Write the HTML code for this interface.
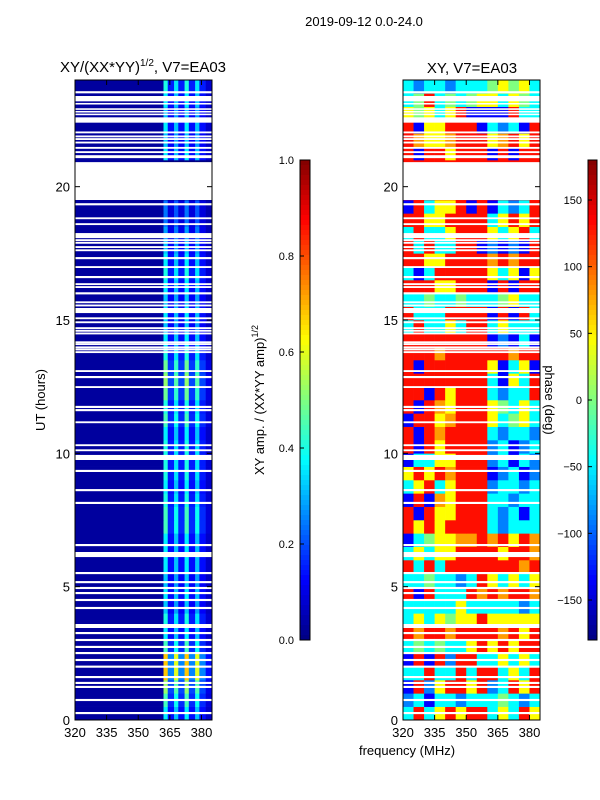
<!DOCTYPE html>
<html><head><meta charset="utf-8"><style>
body{margin:0;background:#fff;}
svg{display:block;font-family:"Liberation Sans","DejaVu Sans",sans-serif;}
</style></head><body>
<svg id="fig" width="600" height="800" viewBox="0 0 600 800" xmlns="http://www.w3.org/2000/svg">
<rect width="600" height="800" fill="#fff"/>
<text x="364" y="26" font-size="13" text-anchor="middle">2019-09-12 0.0-24.0</text>
<text x="143" y="72" font-size="15" text-anchor="middle">XY/(XX*YY)<tspan dy="-6" font-size="10">1/2</tspan><tspan dy="6">, V7=EA03</tspan></text>
<text x="472" y="73" font-size="15" text-anchor="middle">XY, V7=EA03</text>
<text transform="translate(45,400) rotate(-90)" font-size="13" text-anchor="middle">UT (hours)</text>
<text x="407" y="755" font-size="13" text-anchor="middle">frequency (MHz)</text>
<text transform="translate(264,400) rotate(-90)" font-size="13" text-anchor="middle">XY amp. / (XX*YY amp)<tspan dy="-6" font-size="9">1/2</tspan></text>
<g id="ampPanel"></g>
<g id="phasePanel"></g>
<g id="cbars"></g>
<text transform="translate(545,400) rotate(90)" font-size="13" text-anchor="middle">phase (deg)</text>
<g id="axes"></g>
</svg>
<script>
// ---- data ----
const hourRange = [0, 24];
const freqRange = [320, 385];
const xTicks = [320, 335, 350, 365, 380];
const yTicks = [0, 5, 10, 15, 20];
const ampTicks = [0.0, 0.2, 0.4, 0.6, 0.8, 1.0];
const phaseTicks = [-150, -100, -50, 0, 50, 100, 150];
const ampFreqEdges = [320, 362, 364, 367, 369, 372, 374, 377, 379, 382, 385];
const ampProfile = [0.03, 0.4, 0.15, 0.35, 0.15, 0.4, 0.15, 0.35, 0.15, 0.08];
const ampRowScale = [0.9,1.1,1.3,1.7,1.7,1.1,0.9,1.0,0.8,0.9,0.8,0.9,0.9,0.9,1.1,1.1,1.0,0.9,1.0,1.0,1.0,0.9,1.1,1.0,1.2,1.3,1.2,1.0,0.9,0.8,0.9,0.8,0.9,1.0,0.9,0.8,0.7,0.6,0.6,0,0,0,0.9,0.8,0.9,0.8,0.9,1.0];
const phaseFreqStart = [320,325,330,335,340,345,350,355,360,365,370,375,380];
const phaseRows = [
[-45,130,-45,45,130,45,130,130,-45,45,-45,130,45],
[-90,-45,-135,-45,-45,-90,-45,-45,-45,0,-45,-90,-45],
[-135,130,-90,45,130,130,45,130,-90,-45,130,45,130],
[-45,-45,130,-45,-45,130,-45,130,130,-45,45,-45,130],
[-135,130,-135,130,-90,130,130,-45,-45,45,-45,45,-45],
[-45,0,-45,0,-45,-45,45,130,45,130,45,130,130],
[130,80,130,130,80,130,130,130,130,80,130,45,130],
[-45,45,-45,45,0,45,45,130,45,45,45,45,45],
[-45,-45,-45,-45,-45,45,-45,-45,-45,-45,-45,-90,-45],
[130,-135,130,-45,-45,-45,130,80,130,80,130,130,80],
[-45,-45,0,-45,-45,-90,-45,130,45,-45,45,-45,45],
[130,-45,130,-45,130,130,130,130,130,130,130,80,130],
[-45,45,-45,45,45,130,130,130,130,45,130,130,80],
[-135,-45,0,45,45,80,80,130,80,130,45,130,80],
[130,45,130,45,130,130,130,130,-45,-90,-45,-45,-45],
[130,-135,130,45,45,130,130,130,-45,-90,-45,-135,-45],
[-135,130,-135,80,45,130,130,130,-45,-45,-90,-45,-45],
[-45,45,130,-45,45,130,130,130,-90,-45,-45,-90,-45],
[45,130,45,130,80,130,130,130,-135,-90,-45,-135,-90],
[-135,-45,-45,45,45,130,130,130,-90,-45,-135,-45,-90],
[130,-135,130,45,130,130,130,130,-90,-45,-135,-90,-45],
[130,-135,130,80,130,130,130,130,-45,-90,-45,-45,-90],
[-135,130,130,45,80,130,130,130,45,-45,0,45,-45],
[130,-135,130,80,45,130,130,130,45,0,-45,45,-45],
[130,130,-135,130,45,130,130,130,-45,-90,-45,-45,130],
[130,130,130,130,130,130,130,130,-45,-135,45,-45,130],
[130,-135,130,130,130,130,130,130,45,-135,-45,45,-135],
[130,130,130,80,130,130,130,130,130,130,80,130,130],
[130,130,130,130,130,130,130,130,-135,-90,-135,-45,-135],
[-45,130,-45,-45,45,-45,130,130,-45,45,-45,-45,-45],
[130,-45,-45,-45,130,130,130,130,-135,130,-135,130,-45],
[-45,-45,0,-45,-45,0,-45,-45,-45,0,45,-45,-45],
[130,130,130,45,45,130,130,130,-135,130,-135,130,130],
[-45,-135,-45,130,130,130,130,130,45,-45,45,-135,45],
[130,130,45,45,130,130,130,130,80,130,80,130,130],
[130,-45,130,-45,-45,130,130,-135,-90,-135,-90,-135,130],
[-45,130,-45,-45,45,130,130,130,45,-45,45,130,-45],
[130,130,45,45,130,130,130,130,-45,45,130,45,130],
[-135,130,-45,45,45,130,-135,130,-135,-45,-90,-45,130],
[130,130,130,130,130,130,130,130,130,130,130,130,130],
[130,130,130,130,130,130,130,130,130,130,130,130,130],
[130,130,130,130,130,130,130,130,130,130,130,130,130],
[130,-135,130,130,45,130,130,130,-135,130,-135,130,130],
[130,80,45,45,80,130,130,130,45,80,130,45,130],
[130,-135,45,45,130,130,130,-135,-45,-90,-45,-135,130],
[45,0,45,-45,45,130,-135,-135,-135,-135,130,-45,-45],
[-45,0,130,-45,0,-45,0,45,45,-45,45,0,-45],
[-45,-90,-45,-45,-90,-45,-45,-45,0,45,0,45,-45]
];
const gapStart = [23.5,23.2,23.08,22.88,22.78,22.68,22.4,22.0,21.85,21.75,21.62,21.42,21.26,21.07,19.5,19.3,18.78,18.56,18.07,17.96,17.86,17.7,17.58,17.28,16.95,16.57,16.31,16.2,15.96,15.63,15.51,15.26,15.03,14.88,14.66,14.56,14.46,14.13,14.06,13.94,13.86,13.76,13.05,12.82,12.45,11.7,11.58,11.13,10.27,10.08,9.75,9.3,8.58,8.1,6.52,6.11,5.47,5.13,4.91,4.72,4.46,4.16,3.45,3.22,2.96,2.7,2.47,2.21,1.96,1.57,1.35,1.2,0.71,0.22];
const gapEnd   = [23.58,23.4,23.14,22.94,22.84,22.74,22.6,22.07,21.92,21.82,21.69,21.49,21.33,21.18,20.92,19.38,18.85,18.63,18.26,18.03,17.93,17.77,17.65,17.36,17.02,16.65,16.38,16.27,16.04,15.7,15.58,15.45,15.1,14.95,14.73,14.63,14.53,14.2,14.13,14.01,13.93,13.83,13.12,12.9,12.52,11.78,11.66,11.2,10.34,10.15,9.94,9.38,8.66,8.18,6.6,6.3,5.55,5.21,4.99,4.8,4.54,4.24,3.6,3.3,3.04,2.78,2.55,2.29,2.04,1.65,1.43,1.28,0.79,0.3];

// ---- helpers ----
const NS = "http://www.w3.org/2000/svg";
const P1 = {x0:75, x1:212}, P2 = {x0:403, x1:540}, Y0 = 720, Y1 = 80;
function xs(p, f){ return p.x0 + (f - freqRange[0]) / (freqRange[1]-freqRange[0]) * (p.x1 - p.x0); }
function ys(h){ return Y0 - (h - hourRange[0]) / (hourRange[1]-hourRange[0]) * (Y0 - Y1); }
function clip(v){ return Math.max(0, Math.min(1, v)); }
function jet(t){
  t = clip(t);
  const r = clip(1.5 - Math.abs(4*t-3)), g = clip(1.5 - Math.abs(4*t-2)), b = clip(1.5 - Math.abs(4*t-1));
  return "rgb(" + Math.round(r*255) + "," + Math.round(g*255) + "," + Math.round(b*255) + ")";
}
function mk(tag, attrs, parent){
  const e = document.createElementNS(NS, tag);
  for (const k in attrs) e.setAttribute(k, attrs[k]);
  parent.appendChild(e); return e;
}
const ampG = document.getElementById('ampPanel');
const phG = document.getElementById('phasePanel');
const nRows = phaseRows.length, dh = (hourRange[1]-hourRange[0]) / nRows;

// amp heatmap
for (let r = 0; r < nRows; r++) {
  const yTop = ys((r+1)*dh), yBot = ys(r*dh);
  for (let c = 0; c < ampProfile.length; c++) {
    const v = c === 0 ? ampProfile[c] : ampProfile[c] * ampRowScale[r];
    const x0 = xs(P1, ampFreqEdges[c]), x1 = xs(P1, ampFreqEdges[c+1]);
    const rc = mk('rect', {x:x0, y:yTop, width:x1-x0+0.3, height:yBot-yTop+0.3, fill:jet(v)}, ampG);
    
    
  }
}
// phase heatmap
for (let r = 0; r < nRows; r++) {
  const yTop = ys((r+1)*dh), yBot = ys(r*dh);
  for (let c = 0; c < phaseFreqStart.length; c++) {
    const f0 = phaseFreqStart[c], f1 = c+1 < phaseFreqStart.length ? phaseFreqStart[c+1] : freqRange[1];
    const x0 = xs(P2, f0), x1 = xs(P2, f1);
    const rc = mk('rect', {x:x0, y:yTop, width:x1-x0+0.3, height:yBot-yTop+0.3, fill:jet((phaseRows[r][c]+180)/360)}, phG);
    
    
  }
}
// flagged gaps
for (let i = 0; i < gapStart.length; i++) {
  [P1, P2].forEach(function(p){
    const g = mk('rect', {x:p.x0, y:ys(gapEnd[i]), width:p.x1-p.x0, height:ys(gapStart[i])-ys(gapEnd[i]), fill:'#fff'}, p===P1?ampG:phG);
    
    
  });
}
// axes
const ax = document.getElementById('axes');
[P1, P2].forEach(function(p){
  const fr = mk('rect', {x:p.x0, y:Y1, width:p.x1-p.x0, height:Y0-Y1, fill:'none', stroke:'#000', 'stroke-width':1}, ax);
  
  
  xTicks.forEach(function(t){
    const x = xs(p, t);
    mk('line', {x1:x, x2:x, y1:Y0, y2:Y0-5, stroke:'#000'}, ax);
    mk('line', {x1:x, x2:x, y1:Y1, y2:Y1+5, stroke:'#000'}, ax);
    const tx = mk('text', {x:x, y:Y0+17, 'font-size':13, 'text-anchor':'middle'}, ax);
    tx.textContent = t;
    
    
  });
  yTicks.forEach(function(t){
    const y = ys(t);
    mk('line', {x1:p.x0, x2:p.x0+5, y1:y, y2:y, stroke:'#000'}, ax);
    mk('line', {x1:p.x1, x2:p.x1-5, y1:y, y2:y, stroke:'#000'}, ax);
    const tx = mk('text', {x:p.x0-5, y:y+5, 'font-size':13, 'text-anchor':'end'}, ax);
    tx.textContent = t;
    
    
  });
});
// colorbars
const cb = document.getElementById('cbars');
function colorbar(x, w, vmin, vmax, ticks, fmt, name){
  const top = 160, bot = 640, n = 96;
  for (let i = 0; i < n; i++) {
    const y0 = top + (bot-top)*i/n;
    mk('rect', {x:x, y:y0, width:w, height:(bot-top)/n+0.4, fill:jet(1 - (i+0.5)/n)}, cb);
  }
  const o = mk('rect', {x:x, y:top, width:w, height:bot-top, fill:'none', stroke:'#000'}, cb);
  
  
  ticks.forEach(function(t){
    const y = bot - (t - vmin)/(vmax - vmin)*(bot-top);
    mk('line', {x1:x, x2:x+4, y1:y, y2:y, stroke:'#000'}, cb);
    const tx = mk('text', {x:x-6, y:y+4, 'font-size':11, 'text-anchor':'end'}, cb);
    tx.textContent = fmt(t);
    
    
  });
}
colorbar(300, 10, 0, 1, ampTicks, function(t){return t.toFixed(1);}, 'amp-colorbar');
colorbar(588, 9, -180, 180, phaseTicks, function(t){return t < 0 ? '\u2212' + (-t) : '' + t;}, 'phase-colorbar');
</script>
</body></html>
